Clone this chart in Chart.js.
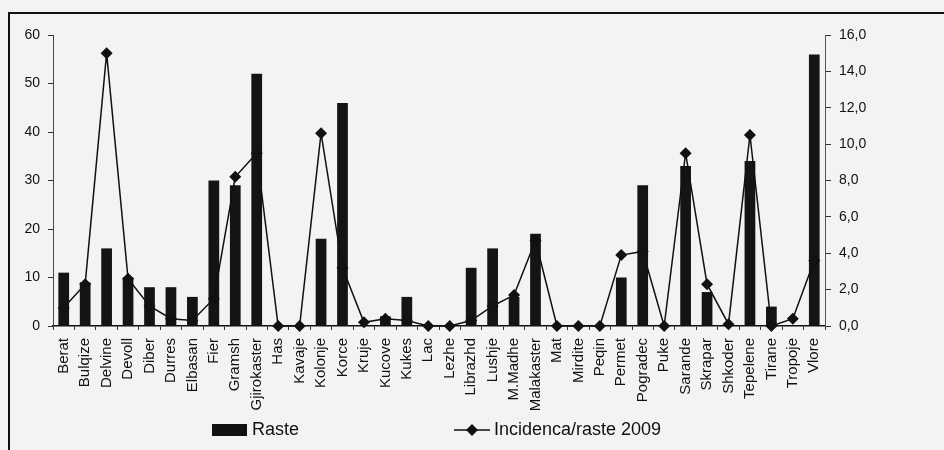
<!DOCTYPE html>
<html>
<head>
<meta charset="utf-8">
<script src="https://cdn.jsdelivr.net/npm/chart.js@4.4.1/dist/chart.umd.min.js"></script>
<style>
  html, body { margin: 0; padding: 0; background: #f3f3f1; }
  #wrap { position: relative; width: 944px; height: 450px; overflow: hidden; }
  #frame { position: absolute; left: 8px; top: 12px; right: -6px; bottom: -6px;
           border-left: 2px solid #111; border-top: 2px solid #111; }
  canvas { position: absolute; left: 0; top: 0; }
</style>
</head>
<body>
<div id="wrap">
  <div id="frame"></div>
  <canvas id="chart" width="944" height="450"></canvas>
</div>
<script>
// Districts along the category axis
const districts = [
  'Berat', 'Bulqize', 'Delvine', 'Devoll', 'Diber', 'Durres', 'Elbasan', 'Fier',
  'Gramsh', 'Gjirokaster', 'Has', 'Kavaje', 'Kolonje', 'Korce', 'Kruje', 'Kucove',
  'Kukes', 'Lac', 'Lezhe', 'Librazhd', 'Lushje', 'M.Madhe', 'Malakaster', 'Mat',
  'Mirdite', 'Peqin', 'Permet', 'Pogradec', 'Puke', 'Sarande', 'Skrapar', 'Shkoder',
  'Tepelene', 'Tirane', 'Tropoje', 'Vlore'
];

// Number of cases per district (left axis)
const raste = [
  11, 9, 16, 10, 8, 8, 6, 30,
  29, 52, 0, 0, 18, 46, 0, 2,
  6, 0, 0, 12, 16, 6, 19, 0,
  0, 0, 10, 29, 0, 33, 7, 0,
  34, 4, 0, 56
];

// Incidence per district, 2009 (right axis)
const incidenca = [
  1.0, 2.3, 15.0, 2.6, 1.1, 0.4, 0.3, 1.5,
  8.2, 9.5, 0.0, 0.0, 10.6, 3.2, 0.2, 0.4,
  0.3, 0.0, 0.0, 0.3, 1.1, 1.7, 4.7, 0.0,
  0.0, 0.0, 3.9, 4.1, 0.0, 9.5, 2.3, 0.1,
  10.5, 0.0, 0.4, 3.6
];

const seriesNames = ['Raste', 'Incidenca/raste 2009'];

const INK = '#111111';
const FONT = "'Liberation Sans', Arial, Helvetica, sans-serif";

// Legend swatches: a filled block for the bars, a line with a diamond for the line series
function barSwatch() {
  const c = document.createElement('canvas');
  c.width = 35; c.height = 12;
  const g = c.getContext('2d');
  g.fillStyle = INK;
  g.fillRect(0, 0, 35, 12);
  return c;
}
function lineSwatch() {
  const c = document.createElement('canvas');
  c.width = 36; c.height = 14;
  const g = c.getContext('2d');
  g.strokeStyle = INK;
  g.lineWidth = 1.5;
  g.beginPath(); g.moveTo(0, 7); g.lineTo(36, 7); g.stroke();
  g.fillStyle = INK;
  g.beginPath(); g.moveTo(18, 1); g.lineTo(24, 7); g.lineTo(18, 13); g.lineTo(12, 7); g.closePath(); g.fill();
  return c;
}

const fixedWidth = w => scale => { scale.width = w; };
const fixedHeight = h => scale => { scale.height = h; };

new Chart(document.getElementById('chart'), {
  data: {
    labels: districts,
    datasets: [
      {
        type: 'line',
        label: seriesNames[1],
        data: incidenca,
        yAxisID: 'y1',
        borderColor: INK,
        borderWidth: 1.5,
        pointStyle: 'rectRot',
        pointRadius: 6,
        pointBackgroundColor: INK,
        pointBorderColor: INK,
        pointBorderWidth: 0,
        tension: 0,
        clip: false,
        order: 1
      },
      {
        type: 'bar',
        label: seriesNames[0],
        data: raste,
        yAxisID: 'y',
        backgroundColor: '#141414',
        barPercentage: 0.5,
        categoryPercentage: 1.0,
        order: 2
      }
    ]
  },
  options: {
    responsive: false,
    animation: false,
    layout: { padding: { top: 35, left: 0, right: 66, bottom: 1 } },
    plugins: {
      tooltip: { enabled: false },
      legend: {
        position: 'bottom',
        labels: {
          usePointStyle: true,
          pointStyleWidth: 26,
          padding: 10,
          color: INK,
          font: { family: FONT, size: 18 },
          generateLabels: () => [
            { text: seriesNames[0] + ' '.repeat(30), pointStyle: barSwatch(), datasetIndex: 1,
              fillStyle: INK, strokeStyle: INK, lineWidth: 0, hidden: false, fontColor: INK },
            { text: seriesNames[1], pointStyle: lineSwatch(), datasetIndex: 0,
              fillStyle: INK, strokeStyle: INK, lineWidth: 0, hidden: false, fontColor: INK }
          ]
        }
      }
    },
    scales: {
      x: {
        grid: { drawOnChartArea: false, offset: true, tickLength: 4, color: '#333', lineWidth: 1 },
        border: { color: INK, width: 1.5 },
        ticks: {
          autoSkip: false, minRotation: 90, maxRotation: 90, padding: 8,
          color: INK, font: { family: FONT, size: 15 }
        },
        afterFit: fixedHeight(85)
      },
      y: {
        position: 'left',
        min: 0, max: 60,
        ticks: { stepSize: 10, padding: 8, color: INK, font: { family: FONT, size: 14 } },
        grid: { drawOnChartArea: false, tickLength: 5, color: '#333' },
        border: { color: '#444', width: 1, dash: [2, 2] },
        afterFit: fixedWidth(53)
      },
      y1: {
        position: 'right',
        min: 0, max: 16,
        ticks: {
          stepSize: 2, padding: 8, color: INK, font: { family: FONT, size: 14 },
          callback: v => v.toFixed(1).replace('.', ',')
        },
        grid: { drawOnChartArea: false, tickLength: 6, color: '#333' },
        border: { color: '#555', width: 1, dash: [2, 2] },
        afterFit: fixedWidth(53)
      }
    }
  }
});
</script>
</body>
</html>
